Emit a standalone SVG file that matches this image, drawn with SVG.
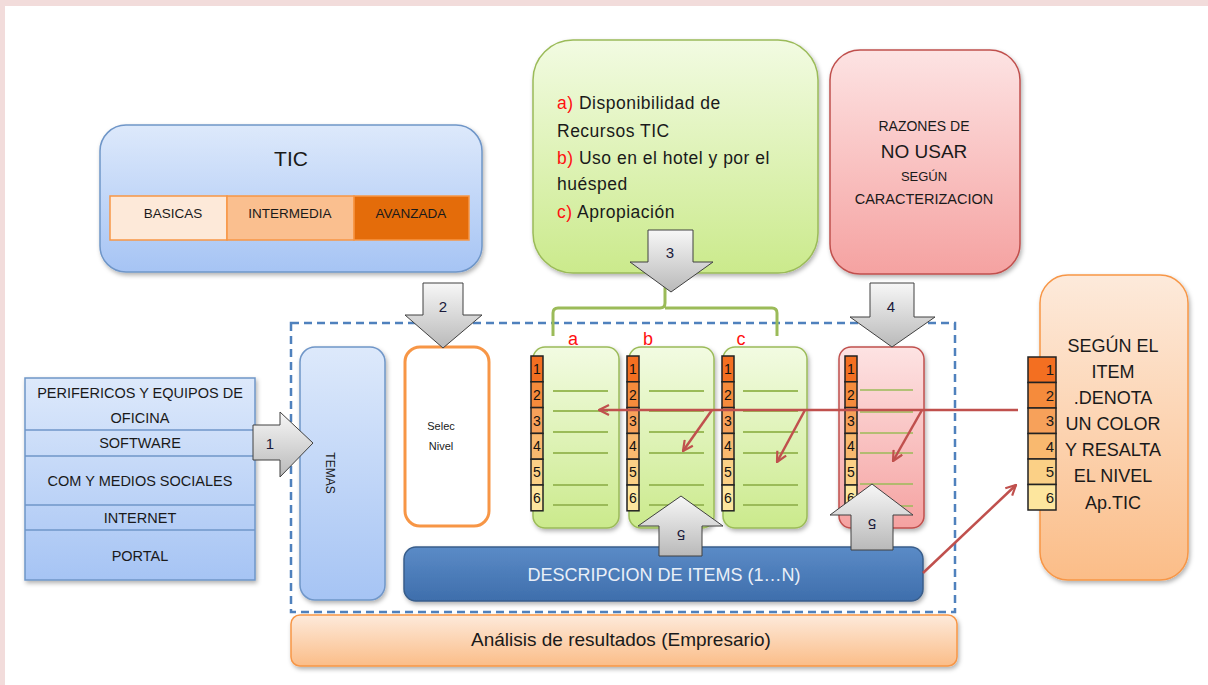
<svg xmlns="http://www.w3.org/2000/svg" width="1208" height="685" viewBox="0 0 1208 685">
<style>
text{font-family:"Liberation Sans",Arial,sans-serif;fill:#1a1a1a}
.c{text-anchor:middle}
.cap{font-size:13.5px}
.gar{fill:url(#greyG);stroke:#404040;stroke-width:1}
.an{font-size:15px;text-anchor:middle;fill:#1a1a3a}
.col{fill:url(#greenG);stroke:#9bbb59;stroke-width:1.5}
.ln{stroke:#9bbb59;stroke-width:2}
.red{stroke:#c0504d;stroke-width:2.5;fill:none}
.sn{font-size:14px;text-anchor:middle;fill:#111}
.lbl{font-size:18px;fill:#ff1010;text-anchor:middle}
.gt{font-size:17.5px;letter-spacing:0.5px}
</style>
<defs>
<linearGradient id="blueG" x1="0" y1="0" x2="0" y2="1"><stop offset="0" stop-color="#dde9fb"/><stop offset="1" stop-color="#a6c4f4"/></linearGradient>
<linearGradient id="greenG" x1="0" y1="0" x2="0" y2="1"><stop offset="0" stop-color="#f2fbe2"/><stop offset="1" stop-color="#cbea8c"/></linearGradient>
<linearGradient id="redG" x1="0" y1="0" x2="0" y2="1"><stop offset="0" stop-color="#fde3e3"/><stop offset="1" stop-color="#f5a2a1"/></linearGradient>
<linearGradient id="orG" x1="0" y1="0" x2="0" y2="1"><stop offset="0" stop-color="#fdeadb"/><stop offset="1" stop-color="#fbbd88"/></linearGradient>
<linearGradient id="greyG" x1="0" y1="0" x2="0" y2="1"><stop offset="0" stop-color="#f7f7f7"/><stop offset="1" stop-color="#b9b9b9"/></linearGradient>
<linearGradient id="descG" x1="0" y1="0" x2="0" y2="1"><stop offset="0" stop-color="#5b8bc7"/><stop offset="1" stop-color="#3e6eac"/></linearGradient>
<filter id="sh" x="-10%" y="-10%" width="130%" height="130%"><feDropShadow dx="1.5" dy="2.5" stdDeviation="2" flood-color="#000" flood-opacity="0.3"/></filter>
<marker id="ah" viewBox="0 0 12 12" refX="11" refY="6" markerWidth="12" markerHeight="12" markerUnits="userSpaceOnUse" orient="auto"><path d="M1,1 L11,6 L1,11" fill="none" stroke="#c0504d" stroke-width="2.2"/></marker>
<g id="strip">
<rect x="0" y="0" width="12" height="25.8" fill="#f36f21" stroke="#222" stroke-width="1.5"/>
<rect x="0" y="25.8" width="12" height="25.8" fill="#f58b3c" stroke="#222" stroke-width="1.5"/>
<rect x="0" y="51.6" width="12" height="25.8" fill="#f7a15a" stroke="#222" stroke-width="1.5"/>
<rect x="0" y="77.4" width="12" height="25.8" fill="#f9b96f" stroke="#222" stroke-width="1.5"/>
<rect x="0" y="103.2" width="12" height="25.8" fill="#fbd086" stroke="#222" stroke-width="1.5"/>
<rect x="0" y="129" width="12" height="25.8" fill="#fde69e" stroke="#222" stroke-width="1.5"/>
<text class="sn" x="6" y="18">1</text><text class="sn" x="6" y="44">2</text><text class="sn" x="6" y="70">3</text><text class="sn" x="6" y="95">4</text><text class="sn" x="6" y="121">5</text><text class="sn" x="6" y="147">6</text>
</g>
<g id="lines">
<line class="ln" x1="20" y1="44" x2="75" y2="44"/>
<line class="ln" x1="20" y1="64" x2="75" y2="64"/>
<line class="ln" x1="20" y1="85" x2="75" y2="85"/>
<line class="ln" x1="20" y1="106" x2="75" y2="106"/>
<line class="ln" x1="20" y1="138" x2="75" y2="138"/>
<line class="ln" x1="20" y1="158" x2="75" y2="158"/>
</g>
</defs>
<rect x="0" y="0" width="1208" height="685" fill="#ffffff"/>
<rect x="0" y="0" width="1208" height="6" fill="#f2dcdb"/>
<rect x="0" y="0" width="5" height="685" fill="#f2dcdb"/>

<g id="tic">
<rect x="100" y="125" width="382" height="147" rx="26" fill="url(#blueG)" stroke="#6f96c8" stroke-width="1.5" filter="url(#sh)"/>
<text class="c" x="291" y="166" font-size="21">TIC</text>
<rect x="110" y="196" width="117" height="44" fill="#fde9d9" stroke="#f79646" stroke-width="1.5"/>
<rect x="227" y="196" width="127" height="44" fill="#fabf8f" stroke="#f79646" stroke-width="1.5"/>
<rect x="354" y="196" width="115" height="44" fill="#e46c0a" stroke="#f79646" stroke-width="1.5"/>
<text class="c cap" x="173" y="218">BASICAS</text>
<text class="c cap" x="290" y="218">INTERMEDIA</text>
<text class="c cap" x="411" y="218">AVANZADA</text>
</g>

<g id="dimensiones">
<rect x="533" y="40" width="285" height="233" rx="40" fill="url(#greenG)" stroke="#9bbb59" stroke-width="1.5" filter="url(#sh)"/>
<text class="gt" x="557" y="109"><tspan fill="#ff1010">a)</tspan> Disponibilidad de</text>
<text class="gt" x="557" y="137">Recursos TIC</text>
<text class="gt" x="557" y="164"><tspan fill="#ff1010">b)</tspan> Uso en el hotel y por el</text>
<text class="gt" x="557" y="190">huésped</text>
<text class="gt" x="557" y="218"><tspan fill="#ff1010">c)</tspan> Apropiación</text>
</g>

<g id="razones">
<rect x="830" y="50" width="190" height="224" rx="30" fill="url(#redG)" stroke="#c0504d" stroke-width="1.5" filter="url(#sh)"/>
<text class="c" x="924" y="131" font-size="14">RAZONES  DE</text>
<text class="c" x="924" y="158" font-size="19">NO USAR</text>
<text class="c" x="924" y="181" font-size="13">SEGÚN</text>
<text class="c" x="924" y="204" font-size="14.5">CARACTERIZACION</text>
</g>

<g id="lista">
<g filter="url(#sh)">
<rect x="25" y="378" width="230" height="202" fill="url(#blueG)" stroke="#6f96c8" stroke-width="1.5"/>
</g>
<line x1="25" y1="430" x2="255" y2="430" stroke="#6f96c8" stroke-width="1.5"/>
<line x1="25" y1="456" x2="255" y2="456" stroke="#6f96c8" stroke-width="1.5"/>
<line x1="25" y1="505" x2="255" y2="505" stroke="#6f96c8" stroke-width="1.5"/>
<line x1="25" y1="530" x2="255" y2="530" stroke="#6f96c8" stroke-width="1.5"/>
<text class="c" x="140" y="398" font-size="14.5">PERIFERICOS Y EQUIPOS DE</text>
<text class="c" x="140" y="423" font-size="14.5">OFICINA</text>
<text class="c" x="140" y="448" font-size="14.5">SOFTWARE</text>
<text class="c" x="140" y="486" font-size="14.5">COM Y MEDIOS SOCIALES</text>
<text class="c" x="140" y="523" font-size="14.5">INTERNET</text>
<text class="c" x="140" y="561" font-size="14.5">PORTAL</text>
</g>

<g id="marco">
<rect x="291" y="323" width="664" height="289" fill="none" stroke="#4f81bd" stroke-width="2.5" stroke-dasharray="8 5"/>
</g>

<g id="temas">
<rect x="300" y="347" width="85" height="253" rx="15" fill="url(#blueG)" stroke="#6f96c8" stroke-width="1.5" filter="url(#sh)"/>
<text class="c" x="0" y="0" font-size="12" transform="translate(326,473) rotate(90)">TEMAS</text>
</g>

<g id="selec">
<rect x="405" y="347" width="84" height="179" rx="15" fill="#ffffff" stroke="#f79646" stroke-width="3"/>
<text class="c" x="441" y="430" font-size="11">Selec</text>
<text class="c" x="441" y="450" font-size="11">Nivel</text>
</g>

<g id="col-a">
<rect class="col" x="533" y="347" width="86" height="181" rx="12" filter="url(#sh)"/>
<use href="#lines" x="533" y="347"/>
<use href="#strip" x="531" y="356"/>
<text class="lbl" x="573" y="345">a</text>
</g>
<g id="col-b">
<rect class="col" x="629" y="347" width="85" height="181" rx="12" filter="url(#sh)"/>
<use href="#lines" x="629" y="347"/>
<use href="#strip" x="627" y="356"/>
<text class="lbl" x="648" y="345">b</text>
</g>
<g id="col-c">
<rect class="col" x="723" y="347" width="84" height="181" rx="12" filter="url(#sh)"/>
<use href="#lines" x="723" y="347"/>
<use href="#strip" x="722" y="356"/>
<text class="lbl" x="741" y="345">c</text>
</g>
<g id="col-razones">
<rect x="839" y="347" width="85" height="181" rx="12" fill="url(#redG)" stroke="#c0504d" stroke-width="1.5" filter="url(#sh)"/>
<g stroke="#9bbb59" stroke-width="1.5">
<line x1="860" y1="390" x2="913" y2="390"/>
<line x1="860" y1="412" x2="913" y2="412"/>
<line x1="860" y1="433" x2="913" y2="433"/>
<line x1="860" y1="453" x2="913" y2="453"/>
<line x1="860" y1="484" x2="913" y2="484"/>
<line x1="860" y1="506" x2="913" y2="506"/>
</g>
<use href="#strip" x="845" y="356"/>
</g>

<g id="descripcion">
<rect x="404" y="547" width="519" height="54" rx="12" fill="url(#descG)" stroke="#385d8a" stroke-width="1.5" filter="url(#sh)"/>
<text class="c" x="664" y="581" font-size="18" style="fill:#e9eff8">DESCRIPCION DE ITEMS (1…N)</text>
</g>

<g id="analisis">
<rect x="291" y="615" width="666" height="51" rx="9" fill="url(#orG)" stroke="#f79646" stroke-width="1.5" filter="url(#sh)"/>
<text class="c" x="621" y="646" font-size="19">Análisis de resultados (Empresario)</text>
</g>

<g id="nivel">
<rect x="1040" y="275" width="148" height="305" rx="28" fill="url(#orG)" stroke="#f79646" stroke-width="1.5" filter="url(#sh)"/>
<g font-size="18">
<text class="c" x="1113" y="352">SEGÚN EL</text>
<text class="c" x="1113" y="378">ITEM</text>
<text class="c" x="1113" y="404">.DENOTA</text>
<text class="c" x="1113" y="430">UN COLOR</text>
<text class="c" x="1113" y="456">Y RESALTA</text>
<text class="c" x="1113" y="482">EL NIVEL</text>
<text class="c" x="1113" y="509">Ap.TIC</text>
</g>
<g stroke="#222" stroke-width="1.5">
<rect x="1028" y="357" width="28" height="25.5" fill="#f36f21"/>
<rect x="1028" y="382.5" width="28" height="25.5" fill="#f58b3c"/>
<rect x="1028" y="408" width="28" height="25.5" fill="#f7a15a"/>
<rect x="1028" y="433.5" width="28" height="25.5" fill="#f9b96f"/>
<rect x="1028" y="459" width="28" height="25.5" fill="#fbd086"/>
<rect x="1028" y="484.5" width="28" height="25.5" fill="#fde69e"/>
</g>
<g font-size="15" text-anchor="end">
<text x="1054" y="375">1</text><text x="1054" y="401">2</text><text x="1054" y="426">3</text><text x="1054" y="452">4</text><text x="1054" y="477">5</text><text x="1054" y="503">6</text>
</g>
</g>

<g id="conectores">
<path d="M665,283 V303 Q665,308 660,308 H558 Q553,308 553,313 V336 M665,308 H772 Q777,308 777,313 V336" fill="none" stroke="#9bbb59" stroke-width="3"/>
<line class="red" x1="1018" y1="410" x2="599" y2="410" marker-end="url(#ah)"/>
<line class="red" x1="712" y1="410" x2="683" y2="451" marker-end="url(#ah)"/>
<line class="red" x1="805" y1="410" x2="777" y2="462" marker-end="url(#ah)"/>
<line class="red" x1="922" y1="410" x2="893" y2="461" marker-end="url(#ah)"/>
<line class="red" x1="923" y1="573" x2="1016" y2="485" marker-end="url(#ah)"/>
<polygon class="gar" points="253,425 280,425 280,412 313,443 280,477 280,460 253,460"/>
<text class="an" x="270" y="449">1</text>
<polygon class="gar" points="423,283 463,283 463,315 482,315 443,348 405,315 423,315"/>
<text class="an" x="443" y="312">2</text>
<polygon class="gar" points="648,230 693,230 693,262 713,262 671,292 630,262 648,262"/>
<text class="an" x="670" y="258">3</text>
<polygon class="gar" points="870,283 914,283 914,317 935,317 892,347 850,317 870,317"/>
<text class="an" x="891" y="312">4</text>
<polygon class="gar" points="681,496 723,526 702,526 702,556 659,556 659,526 638,526"/>
<text class="an" transform="translate(681,530) rotate(180)">5</text>
<polygon class="gar" points="872,484 913,515 893,515 893,550 851,550 851,515 830,515"/>
<text class="an" transform="translate(872,519) rotate(180)">5</text>
</g>
</svg>
